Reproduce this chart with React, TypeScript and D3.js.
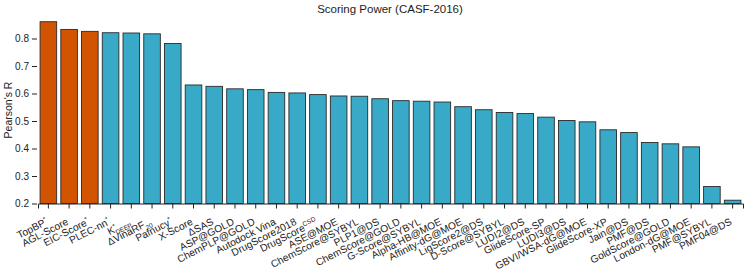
import { useEffect, useRef } from "react";
import * as d3 from "d3";

// "^" starts a superscript run, "_" a subscript run
const methods = [
  "TopBP^*", "AGL-Score", "EIC-Score^*", "PLEC-nn^*", "K^*_DEEP", "ΔVinaRF_20",
  "Pafnucy^*", "X-Score", "ΔSAS", "ASP@GOLD", "ChemPLP@GOLD", "Autodock Vina",
  "DrugScore2018", "DrugScore^CSD", "ASE@MOE", "ChemScore@SYBYL", "PLP1@DS",
  "ChemScore@GOLD", "G-Score@SYBYL", "Alpha-HB@MOE", "Affinity-dG@MOE",
  "LigScore2@DS", "D-Score@SYBYL", "LUDI2@DS", "GlideScore-SP", "LUDI3@DS",
  "GBVI/WSA-dG@MOE", "GlideScore-XP", "Jain@DS", "PMF@DS", "GoldScore@GOLD",
  "London-dG@MOE", "PMF@SYBYL", "PMF04@DS",
];

const pearsonR = [
  0.861, 0.833, 0.826, 0.821, 0.820, 0.817, 0.782, 0.631, 0.626, 0.617,
  0.614, 0.604, 0.602, 0.596, 0.591, 0.590, 0.581, 0.574, 0.572, 0.569,
  0.552, 0.541, 0.531, 0.527, 0.514, 0.502, 0.497, 0.468, 0.458, 0.422,
  0.417, 0.406, 0.262, 0.212,
];

const highlighted = ["TopBP^*", "AGL-Score", "EIC-Score^*"];

const yTicks = [0.2, 0.3, 0.4, 0.5, 0.6, 0.7, 0.8];

const FONT = "'Liberation Sans', Arial, Helvetica, sans-serif";

export default function App() {
  const svgRef = useRef<SVGSVGElement>(null);

  useEffect(() => {
    if (!svgRef.current) return;
    document.body.style.margin = "0";

    const svg = d3.select(svgRef.current);
    const width = 747;
    const height = 275;

    svg.selectAll("*").remove();
    svg.attr("width", width).attr("height", height);

    const xScale = d3
      .scaleBand()
      .domain(methods)
      .range([38, 743])
      .paddingInner(0.2)
      .paddingOuter(0.1);

    const yScale = d3.scaleLinear().domain([0.2, 0.9]).range([203.5, 11]);

    // Bars
    svg
      .append("g")
      .selectAll("rect")
      .data(methods)
      .enter()
      .append("rect")
      .attr("x", (d) => xScale(d)!)
      .attr("y", (d, i) => yScale(pearsonR[i]))
      .attr("width", xScale.bandwidth())
      .attr("height", (d, i) => yScale(0.2) - yScale(pearsonR[i]))
      .attr("fill", (d) => (highlighted.includes(d) ? "#D35400" : "#38AAC8"))
      .attr("stroke", "#2a2a2a")
      .attr("stroke-width", 0.9);

    // X axis
    const xAxis = svg
      .append("g")
      .attr("transform", `translate(0,${yScale(0.2)})`)
      .call(d3.axisBottom(xScale).tickSizeOuter(0).tickSize(5).tickFormat(() => ""));
    xAxis.select(".domain").attr("stroke", "#222").attr("stroke-width", 1);
    xAxis.selectAll(".tick line").attr("stroke", "#222");

    // X labels, rotated, with sub/superscripts
    const labels = svg
      .append("g")
      .selectAll("text")
      .data(methods)
      .enter()
      .append("text")
      .attr(
        "transform",
        (d) => `translate(${xScale(d)! + xScale.bandwidth() / 2},224) rotate(-27)`
      )
      .attr("text-anchor", "end")
      .attr("font-family", FONT)
      .attr("font-size", "10.2px")
      .attr("fill", "#222");

    labels.each(function (d) {
      const t = d3.select(this);
      const parts = d.split(/(?=[\^_])/);
      let shift = 0;
      let prevSup = false;
      parts.forEach((p) => {
        const ts = t.append("tspan");
        if (p[0] === "^") {
          ts.attr("dy", -4 - shift).attr("font-size", "6.5px").text(p.slice(1));
          shift = -4;
          prevSup = true;
        } else if (p[0] === "_") {
          ts.attr("dy", 3 - shift).attr("font-size", "6.5px").text(p.slice(1));
          if (prevSup) ts.attr("dx", -2.5);
          shift = 3;
          prevSup = false;
        } else {
          ts.attr("dy", -shift).text(p);
          shift = 0;
          prevSup = false;
        }
      });
    });

    // Y axis
    const yAxis = svg
      .append("g")
      .attr("transform", `translate(37,0)`)
      .call(d3.axisLeft(yScale).tickValues(yTicks).tickSize(5).tickFormat(d3.format(".1f")));
    yAxis.select(".domain").remove();
    yAxis.selectAll(".tick line").attr("stroke", "#222");
    yAxis
      .selectAll("text")
      .attr("fill", "#222")
      .attr("font-family", FONT)
      .attr("font-size", "10px");

    // Y label
    svg
      .append("text")
      .attr("transform", `translate(11.5,110) rotate(-90)`)
      .attr("text-anchor", "middle")
      .attr("font-family", FONT)
      .attr("font-size", "10.5px")
      .attr("fill", "#222")
      .text("Pearson's R");

    // Title
    svg
      .append("text")
      .attr("x", 390)
      .attr("y", 13)
      .attr("text-anchor", "middle")
      .attr("font-family", FONT)
      .attr("font-size", "11.5px")
      .attr("fill", "#222")
      .text("Scoring Power (CASF-2016)");
  }, []);

  return <svg ref={svgRef}></svg>;
}
